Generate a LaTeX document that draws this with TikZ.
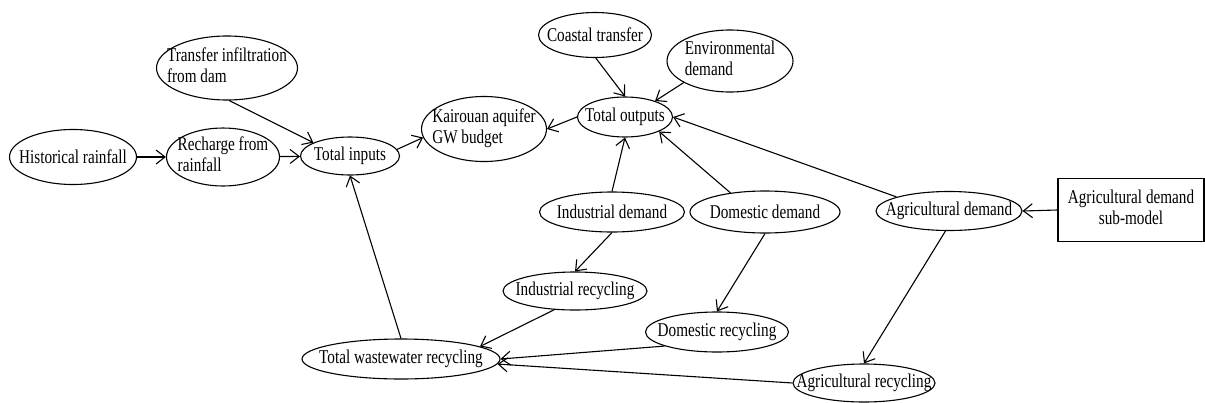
\documentclass[tikz,border=0pt]{standalone}
\usepackage{fontspec}
\setmainfont{Liberation Serif}[FakeStretch=0.78]
\usetikzlibrary{shapes.geometric,arrows.meta}
\newcommand\zw[1]{\makebox[0pt]{#1}}
\newcommand\zwl[2]{\makebox[0pt]{\begin{tabular}{@{}l@{}}#1\\#2\end{tabular}}}
\newcommand\zwc[2]{\makebox[0pt]{\begin{tabular}{@{}c@{}}#1\\#2\end{tabular}}}
\tikzset{
  ell/.style={draw, ellipse, inner sep=0pt, line width=1.1pt, font=\fontsize{19.5}{20.5}\selectfont},
  sbox/.style={draw, rectangle, inner sep=0pt, line width=1.1pt, font=\fontsize{19.5}{20.5}\selectfont},
  arr/.style={-{Straight Barb[length=9pt,width=14pt]}, line width=1.1pt}
}
\begin{document}
\begin{tikzpicture}[x=1pt,y=-1pt]
\useasboundingbox (0,0) rectangle (1205,402);
\node[ell, minimum width=127pt, minimum height=55pt] (hist) at (73,157) {\zw{Historical rainfall}};
\node[ell, minimum width=113pt, minimum height=57pt] (rech) at (223,157) {\zwl{Recharge from}{rainfall}};
\node[ell, minimum width=141pt, minimum height=64pt] (tr) at (227,68) {\zwl{Transfer infiltration}{from dam}};
\node[ell, minimum width=99pt, minimum height=38pt] (tin) at (350,156) {\zw{Total inputs}};
\node[ell, minimum width=125pt, minimum height=65pt] (kai) at (484,129) {\zwl{Kairouan aquifer}{GW budget}};
\node[ell, minimum width=113pt, minimum height=45pt] (cst) at (595,35) {\zw{Coastal transfer}};
\node[ell, minimum width=126pt, minimum height=62pt] (env) at (730,61) {\zwl{Environmental}{demand}};
\node[ell, minimum width=95pt, minimum height=40pt] (tout) at (625,117) {\zw{Total outputs}};
\node[ell, minimum width=145pt, minimum height=40pt] (ind) at (612,212) {\zw{Industrial demand}};
\node[ell, minimum width=150pt, minimum height=42pt] (dom) at (765,212) {\zw{Domestic demand}};
\node[ell, minimum width=146pt, minimum height=39pt] (agd) at (949,211) {\zw{Agricultural demand}};
\node[sbox, minimum width=146pt, minimum height=63pt] (sub) at (1131,210) {\zwc{Agricultural demand}{sub-model}};
\node[ell, minimum width=144pt, minimum height=38pt] (irec) at (575,291) {\zw{Industrial recycling}};
\node[ell, minimum width=143pt, minimum height=40pt] (drec) at (717,332) {\zw{Domestic recycling}};
\node[ell, minimum width=198pt, minimum height=40pt] (twr) at (401,359) {\zw{Total wastewater recycling}};
\node[ell, minimum width=142pt, minimum height=38pt] (arec) at (864,383) {\zw{Agricultural recycling}};
\draw[arr] (hist) -- (rech);
\draw[arr] (rech) -- (tin);
\draw[arr] (tr.-86) -- (tin.160);
\draw[arr] (tin.8) -- (kai.188);
\draw[arr] (tout.west) -- (kai.east);
\draw[arr] (cst.-88) -- (tout.north);
\draw[arr] (env.205) -- (tout.28);
\draw[arr] (ind.north) -- (tout.south);
\draw[arr] (dom.151) -- (tout.-23);
\draw[arr] (agd.165) -- (tout.east);
\draw[arr] (sub.west) -- (agd.east);
\draw[arr] (ind.south) -- (irec.north);
\draw[arr] (dom.south) -- (drec.north);
\draw[arr] (agd.-100) -- (arec.north);
\draw[arr] (irec.222) -- (twr.9);
\draw[arr] (drec.195) -- (twr.east);
\draw[arr] (arec.west) -- (twr.-3);
\draw[arr] (twr.north) -- (tin.south);
\end{tikzpicture}
\end{document}
